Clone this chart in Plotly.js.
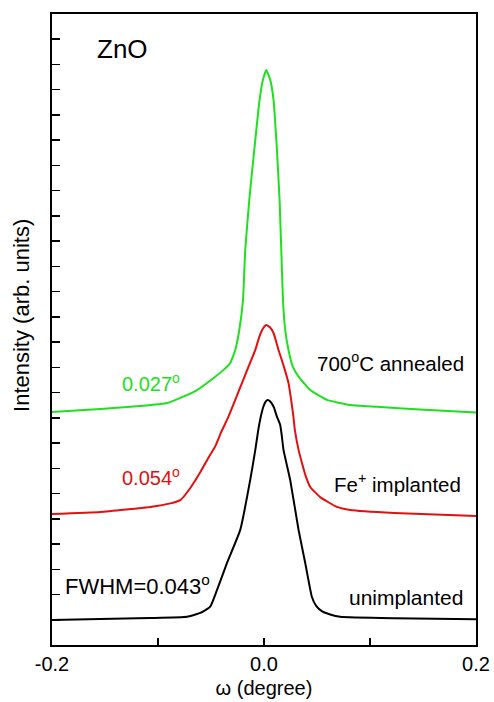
<!DOCTYPE html>
<html>
<head>
<meta charset="utf-8">
<script src="https://cdn.plot.ly/plotly-3.0.1.min.js"></script>
<style>html,body{margin:0;padding:0;background:#fff;}#chart{width:494px;height:702px;}</style>
</head>
<body>
<div id="chart"></div>
<script>
// omega (degree) and intensity (arb. units, vertically offset traces)
const annealedOmega = [-0.2, -0.1543, -0.1166, -0.0912, -0.0789, -0.0632, -0.0475, -0.0381, -0.0318, -0.0271, -0.0233, -0.0198, -0.0177, -0.0139, -0.0092, -0.0042, -0.0010, 0.0021, 0.0059, 0.0090, 0.0122, 0.0147, 0.0163, 0.0179, 0.0200, 0.0231, 0.0270, 0.0326, 0.0436, 0.0593, 0.0813, 0.1067, 0.1472, 0.2];
const annealedInt   = [9.23, 9.35, 9.47, 9.59, 9.79, 10.10, 10.58, 10.90, 11.17, 11.69, 12.48, 13.67, 15.65, 17.63, 19.61, 21.59, 22.39, 22.78, 22.39, 21.59, 19.61, 17.63, 15.65, 13.67, 12.48, 11.69, 11.05, 10.63, 10.10, 9.71, 9.51, 9.44, 9.33, 9.21];

const implantedOmega = [-0.2, -0.1543, -0.1072, -0.0883, -0.0789, -0.0695, -0.0600, -0.0525, -0.0459, -0.0403, -0.0337, -0.0271, -0.0208, -0.0144, -0.0082, -0.0045, -0.0012, 0.0021, 0.0054, 0.0090, 0.0137, 0.0186, 0.0231, 0.0256, 0.0278, 0.0291, 0.0326, 0.0358, 0.0393, 0.0436, 0.0530, 0.0687, 0.0813, 0.1227, 0.2];
const implantedInt   = [5.19, 5.27, 5.47, 5.61, 5.74, 6.22, 6.85, 7.41, 7.88, 8.44, 9.03, 9.71, 10.38, 11.05, 11.69, 12.20, 12.52, 12.68, 12.60, 12.36, 11.69, 11.05, 10.38, 9.71, 9.03, 8.52, 7.73, 7.21, 6.70, 6.26, 5.86, 5.47, 5.35, 5.23, 5.11];

const unimplOmega = [-0.2, -0.1543, -0.1072, -0.0726, -0.0601, -0.0507, -0.0443, -0.0349, -0.0224, -0.0130, -0.0082, -0.0054, -0.0031, -0.0007, 0.0017, 0.0035, 0.0059, 0.0092, 0.0122, 0.0153, 0.0167, 0.0184, 0.0247, 0.0326, 0.0389, 0.0452, 0.0492, 0.0549, 0.0624, 0.0718, 0.1227, 0.2];
const unimplInt   = [0.99, 1.03, 1.07, 1.12, 1.27, 1.52, 2.18, 3.25, 4.56, 6.54, 7.73, 8.52, 9.03, 9.43, 9.65, 9.71, 9.65, 9.43, 9.05, 8.72, 8.32, 7.73, 6.54, 4.56, 3.25, 1.90, 1.55, 1.33, 1.21, 1.12, 1.06, 1.02];

const xTickVals = [-0.2, -0.1, 0.0, 0.1, 0.2];
const xTickText = ['-0.2', '', '0.0', '', '0.2'];

const FONT = 'Liberation Sans, Arial, Helvetica, sans-serif';
const GREEN = '#1ee01e';
const RED = '#e21010';

const lineStyle = (c) => ({color: c, width: 2, shape: 'spline', smoothing: 0.4});

const traces = [
  {x: unimplOmega, y: unimplInt, mode: 'lines', line: lineStyle('#000'), showlegend: false, hoverinfo: 'skip'},
  {x: implantedOmega, y: implantedInt, mode: 'lines', line: lineStyle(RED), showlegend: false, hoverinfo: 'skip'},
  {x: annealedOmega, y: annealedInt, mode: 'lines', line: lineStyle(GREEN), showlegend: false, hoverinfo: 'skip'}
];

const layout = {
  width: 494, height: 702,
  margin: {l: 52, r: 18, t: 14, b: 57},
  paper_bgcolor: '#fff', plot_bgcolor: '#fff',
  font: {family: FONT, size: 20, color: '#000'},
  xaxis: {
    range: [-0.2, 0.2], tickvals: xTickVals, ticktext: xTickText,
    ticks: 'inside', ticklen: 7, tickwidth: 1.5, tickcolor: '#000',
    showline: true, linecolor: '#000', linewidth: 2, mirror: true,
    showgrid: false, zeroline: false,
    tickfont: {family: FONT, size: 20},
    title: {text: 'ω (degree)', font: {family: FONT, size: 20}, standoff: 7}
  },
  yaxis: {
    range: [0, 25], dtick: 1, tick0: 0,
    ticks: 'inside', ticklen: 8, tickwidth: 1.5, tickcolor: '#000',
    showticklabels: false,
    showline: true, linecolor: '#000', linewidth: 2, mirror: true,
    showgrid: false, zeroline: false
  },
  annotations: [
    {xref: 'paper', yref: 'paper', x: -0.0708, y: 0.523, xanchor: 'center', yanchor: 'middle', textangle: -90, text: 'Intensity (arb. units)', showarrow: false, font: {family: FONT, size: 22, color: '#000'}},
    {x: -0.159, y: 23.6, xanchor: 'left', yanchor: 'middle', text: 'ZnO', showarrow: false, font: {family: FONT, size: 26, color: '#000'}},
    {x: -0.1355, y: 10.42, xanchor: 'left', yanchor: 'middle', text: '0.027<sup>o</sup>', showarrow: false, font: {family: FONT, size: 20, color: GREEN}},
    {x: -0.1355, y: 6.66, xanchor: 'left', yanchor: 'middle', text: '0.054<sup>o</sup>', showarrow: false, font: {family: FONT, size: 20, color: RED}},
    {x: -0.19, y: 2.38, xanchor: 'left', yanchor: 'middle', text: 'FWHM=0.043<sup>o</sup>', showarrow: false, font: {family: FONT, size: 22, color: '#000'}},
    {x: 0.191, y: 11.2, xanchor: 'right', yanchor: 'middle', text: '700<sup>o</sup>C annealed', showarrow: false, font: {family: FONT, size: 20.5, color: '#000'}},
    {x: 0.188, y: 6.42, xanchor: 'right', yanchor: 'middle', text: 'Fe<sup>+</sup> implanted', showarrow: false, font: {family: FONT, size: 20.5, color: '#000'}},
    {x: 0.1895, y: 1.9, xanchor: 'right', yanchor: 'middle', text: 'unimplanted', showarrow: false, font: {family: FONT, size: 21, color: '#000'}}
  ]
};

Plotly.newPlot('chart', traces, layout, {staticPlot: true, displayModeBar: false});
</script>
</body>
</html>
